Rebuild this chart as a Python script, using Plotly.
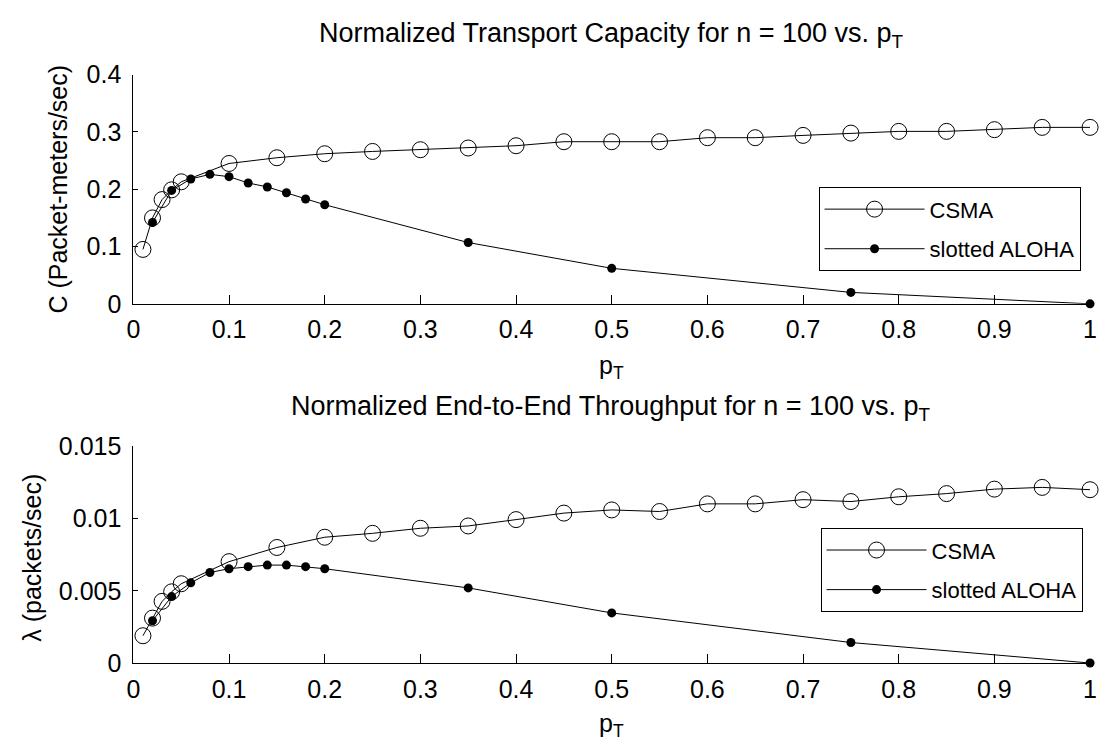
import plotly.graph_objects as go

# Transmission probability grid for each protocol
p_csma = [0.01, 0.02, 0.03, 0.04, 0.05, 0.10, 0.15, 0.20, 0.25, 0.30, 0.35, 0.40,
          0.45, 0.50, 0.55, 0.60, 0.65, 0.70, 0.75, 0.80, 0.85, 0.90, 0.95, 1.00]
p_aloha = [0.02, 0.04, 0.06, 0.08, 0.10, 0.12, 0.14, 0.16, 0.18, 0.20, 0.35, 0.50, 0.75, 1.00]

# Normalized transport capacity (packet-meters/sec)
cap_csma = [0.095, 0.150, 0.182, 0.199, 0.213, 0.245, 0.255, 0.262, 0.266, 0.269, 0.272, 0.276,
            0.283, 0.283, 0.283, 0.290, 0.290, 0.294, 0.298, 0.301, 0.301, 0.304, 0.308, 0.308]
cap_aloha = [0.142, 0.198, 0.218, 0.226, 0.222, 0.211, 0.204, 0.194, 0.183, 0.173,
             0.107, 0.062, 0.020, 0.0]

# Normalized end-to-end throughput (packets/sec)
thr_csma = [0.00189, 0.00311, 0.00427, 0.00493, 0.00549, 0.00702, 0.00800, 0.00871, 0.00898,
            0.00933, 0.00949, 0.00993, 0.01038, 0.01060, 0.01049, 0.01102, 0.01102, 0.01131,
            0.01118, 0.01151, 0.01173, 0.01204, 0.01216, 0.01200]
thr_aloha = [0.00293, 0.00460, 0.00555, 0.00627, 0.00653, 0.00667, 0.00678, 0.00678, 0.00667,
             0.00653, 0.00520, 0.00347, 0.00142, 0.0]

x_ticks = [0, 0.1, 0.2, 0.3, 0.4, 0.5, 0.6, 0.7, 0.8, 0.9, 1]
x_labels = ["0", "0.1", "0.2", "0.3", "0.4", "0.5", "0.6", "0.7", "0.8", "0.9", "1"]
cap_ticks = [0, 0.1, 0.2, 0.3, 0.4]
cap_labels = ["0", "0.1", "0.2", "0.3", "0.4"]
thr_ticks = [0, 0.005, 0.01, 0.015]
thr_labels = ["0", "0.005", "0.01", "0.015"]

FONT = "Liberation Sans, Arial, sans-serif"
W, H = 1102, 756

def px_x(v):
    return v / W

def px_y(v):
    return 1 - v / H

csma_style = dict(mode="lines+markers", line=dict(color="black", width=1),
                  marker=dict(symbol="circle-open", size=16, color="black",
                              line=dict(width=1, color="black")))
aloha_style = dict(mode="lines+markers", line=dict(color="black", width=1),
                   marker=dict(symbol="circle", size=9, color="black"))

fig = go.Figure()
fig.add_trace(go.Scatter(x=p_csma, y=cap_csma, name="CSMA", xaxis="x", yaxis="y",
                         legend="legend", legendgroup="a1", cliponaxis=False, **csma_style))
fig.add_trace(go.Scatter(x=p_aloha, y=cap_aloha, name="slotted ALOHA", xaxis="x", yaxis="y",
                         legend="legend", legendgroup="a2", cliponaxis=False, **aloha_style))
fig.add_trace(go.Scatter(x=p_csma, y=thr_csma, name="CSMA", xaxis="x2", yaxis="y2",
                         legend="legend2", legendgroup="b1", cliponaxis=False, **csma_style))
fig.add_trace(go.Scatter(x=p_aloha, y=thr_aloha, name="slotted ALOHA", xaxis="x2", yaxis="y2",
                         legend="legend2", legendgroup="b2", cliponaxis=False, **aloha_style))

x_dom = [px_x(128), px_x(1097)]
axis_common = dict(showline=True, linecolor="black", linewidth=1, showgrid=False,
                   zeroline=False, ticks="inside", tickcolor="black",
                   ticklabeloverflow="allow",
                   tickfont=dict(family=FONT, size=25, color="black"))

legend_common = dict(xanchor="left", yanchor="top", bordercolor="black", borderwidth=1,
                     bgcolor="white", font=dict(family=FONT, size=22, color="black"),
                     itemwidth=100, tracegroupgap=8, traceorder="grouped",
                     entrywidth=160, entrywidthmode="pixels")

fig.update_layout(
    width=W, height=H,
    margin=dict(l=0, r=0, t=0, b=0),
    paper_bgcolor="white", plot_bgcolor="white",
    xaxis=dict(domain=x_dom, range=[0, 1], anchor="y", tickvals=x_ticks, ticktext=x_labels,
               ticklen=9, ticklabelstandoff=3, **axis_common),
    yaxis=dict(domain=[px_y(301), px_y(63)], range=[0, 0.4], anchor="x",
               tickvals=cap_ticks, ticktext=cap_labels, ticklen=5, ticklabelstandoff=6,
               **axis_common),
    xaxis2=dict(domain=x_dom, range=[0, 1], anchor="y2", tickvals=x_ticks, ticktext=x_labels,
                ticklen=9, ticklabelstandoff=4, **axis_common),
    yaxis2=dict(domain=[px_y(674), px_y(449)], range=[0, 0.015], anchor="x2",
                tickvals=thr_ticks, ticktext=thr_labels, ticklen=5, ticklabelstandoff=6,
                **axis_common),
    legend=dict(x=px_x(822), y=px_y(180), **legend_common),
    legend2=dict(x=px_x(824), y=px_y(534), **legend_common),
    showlegend=True,
)

title_font = dict(family=FONT, size=27, color="black")
label_font = dict(family=FONT, size=25, color="black")
annotations = [
    dict(text="Normalized Transport Capacity for n = 100 vs. p<sub>T</sub>",
         x=px_x(612), y=px_y(22), xanchor="center", yanchor="middle", font=title_font),
    dict(text="Normalized End-to-End Throughput for n = 100 vs. p<sub>T</sub>",
         x=px_x(612), y=px_y(409), xanchor="center", yanchor="middle", font=title_font),
    dict(text="p<sub>T</sub>", x=px_x(612), y=px_y(367), xanchor="center",
         yanchor="middle", font=label_font),
    dict(text="p<sub>T</sub>", x=px_x(612), y=px_y(738), xanchor="center",
         yanchor="middle", font=label_font),
    dict(text="C (Packet-meters/sec)", x=px_x(52), y=px_y(182), xanchor="center",
         yanchor="middle", textangle=-90, font=label_font),
    dict(text="λ (packets/sec)", x=px_x(25), y=px_y(565), xanchor="center",
         yanchor="middle", textangle=-90, font=label_font),
]
for a in annotations:
    fig.add_annotation(xref="paper", yref="paper", showarrow=False, **a)

fig.write_html("out.html")
